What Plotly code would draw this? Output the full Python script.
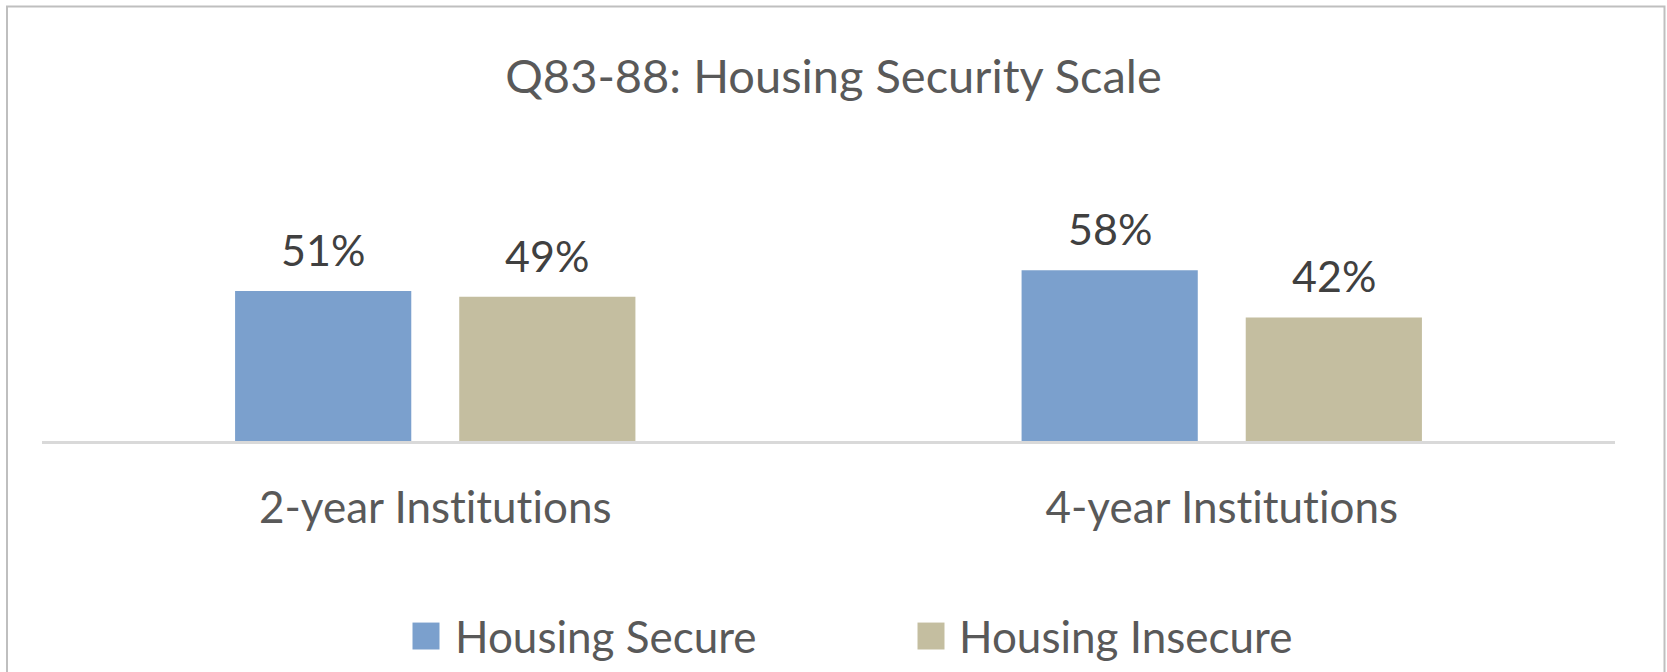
import plotly.graph_objects as go

# ---- data ----
categories = ["2-year Institutions", "4-year Institutions"]
series_names = ["Housing Secure", "Housing Insecure"]
secure_values = [51, 58]
insecure_values = [49, 42]
title_text = "Q83-88: Housing Security Scale"

# ---- styles ----
colors = ["#7BA0CD", "#C4BEA0"]
FONT = "Lato"
TEXT_COLOR = "#595959"
LABEL_COLOR = "#404040"
W, H = 1667, 672
L, R, T, B = 42, 1615, 235, 441.5
BARGAP = 0.43
BARGROUPGAP = 0.214


def px_x(x):
    return (x - L) / (R - L)


def px_y(y):
    return (B - y) / (B - T)


series = [secure_values, insecure_values]
fig = go.Figure()
for name, vals, col in zip(series_names, series, colors):
    fig.add_trace(go.Bar(
        x=categories, y=vals, name=name,
        marker=dict(color=col, line=dict(width=0)),
        showlegend=False, hoverinfo="x+y+name",
    ))

annotations = []
# data labels, placed at each bar's slot centre (category index + group offset)
n = len(series)
slot = (1 - BARGAP) / n
for j, vals in enumerate(series):
    for i, v in enumerate(vals):
        annotations.append(dict(
            x=i + (j - (n - 1) / 2) * slot, y=v, xref="x", yref="y",
            text=f"{v}%", showarrow=False, xanchor="center", yanchor="bottom",
            yshift=14, font=dict(family=FONT, size=43, color=LABEL_COLOR)))

# legend drawn as squares + text
legend_sq_x = [426, 931]
legend_txt_x = [453, 957]
legend_y = 637
sq = 27
shapes = []
for name, col, sx, tx in zip(series_names, colors, legend_sq_x, legend_txt_x):
    shapes.append(dict(type="rect", xref="paper", yref="paper",
                       x0=px_x(sx - sq / 2), x1=px_x(sx + sq / 2),
                       y0=px_y(legend_y + sq / 2), y1=px_y(legend_y - sq / 2),
                       fillcolor=col, line=dict(width=0)))
    annotations.append(dict(text=name, xref="paper", yref="paper",
                            x=px_x(tx), y=px_y(legend_y), xanchor="left", yanchor="middle",
                            showarrow=False, font=dict(family=FONT, size=44, color=TEXT_COLOR)))

# chart border
shapes.append(dict(type="rect", xref="paper", yref="paper",
                   x0=px_x(7), x1=px_x(1664.5), y0=px_y(690), y1=px_y(6),
                   line=dict(color="#BFBFBF", width=2), fillcolor="rgba(0,0,0,0)"))

fig.update_layout(
    width=W, height=H,
    margin=dict(l=L, r=W - R, t=T, b=H - B, pad=0),
    paper_bgcolor="white", plot_bgcolor="white",
    title=dict(text=title_text, x=0.5, xref="container", xanchor="center",
               y=1 - 77 / H, yref="container", yanchor="middle",
               font=dict(family=FONT, size=47, color=TEXT_COLOR)),
    barmode="group", bargap=BARGAP, bargroupgap=BARGROUPGAP,
    xaxis=dict(showline=True, linecolor="#D9D9D9", linewidth=2.5, showgrid=False,
               zeroline=False, ticks="", ticklabelstandoff=26, automargin=False,
               tickfont=dict(family=FONT, size=44, color=TEXT_COLOR), fixedrange=True),
    yaxis=dict(visible=False, range=[0, 70], showgrid=False, zeroline=False,
               fixedrange=True, automargin=False),
    shapes=shapes, annotations=annotations, showlegend=False,
)

fig.write_html(
    "out.html",
    config={"displayModeBar": False},
    post_script=(
        "document.body.style.margin='0';"
        "var st=document.createElement('style');"
        "st.textContent=\"svg text{font-variant-ligatures:none !important;"
        "font-feature-settings:'liga' 0,'clig' 0,'dlig' 0,'calt' 0 !important;}\";"
        "document.head.appendChild(st);"
    ),
)
